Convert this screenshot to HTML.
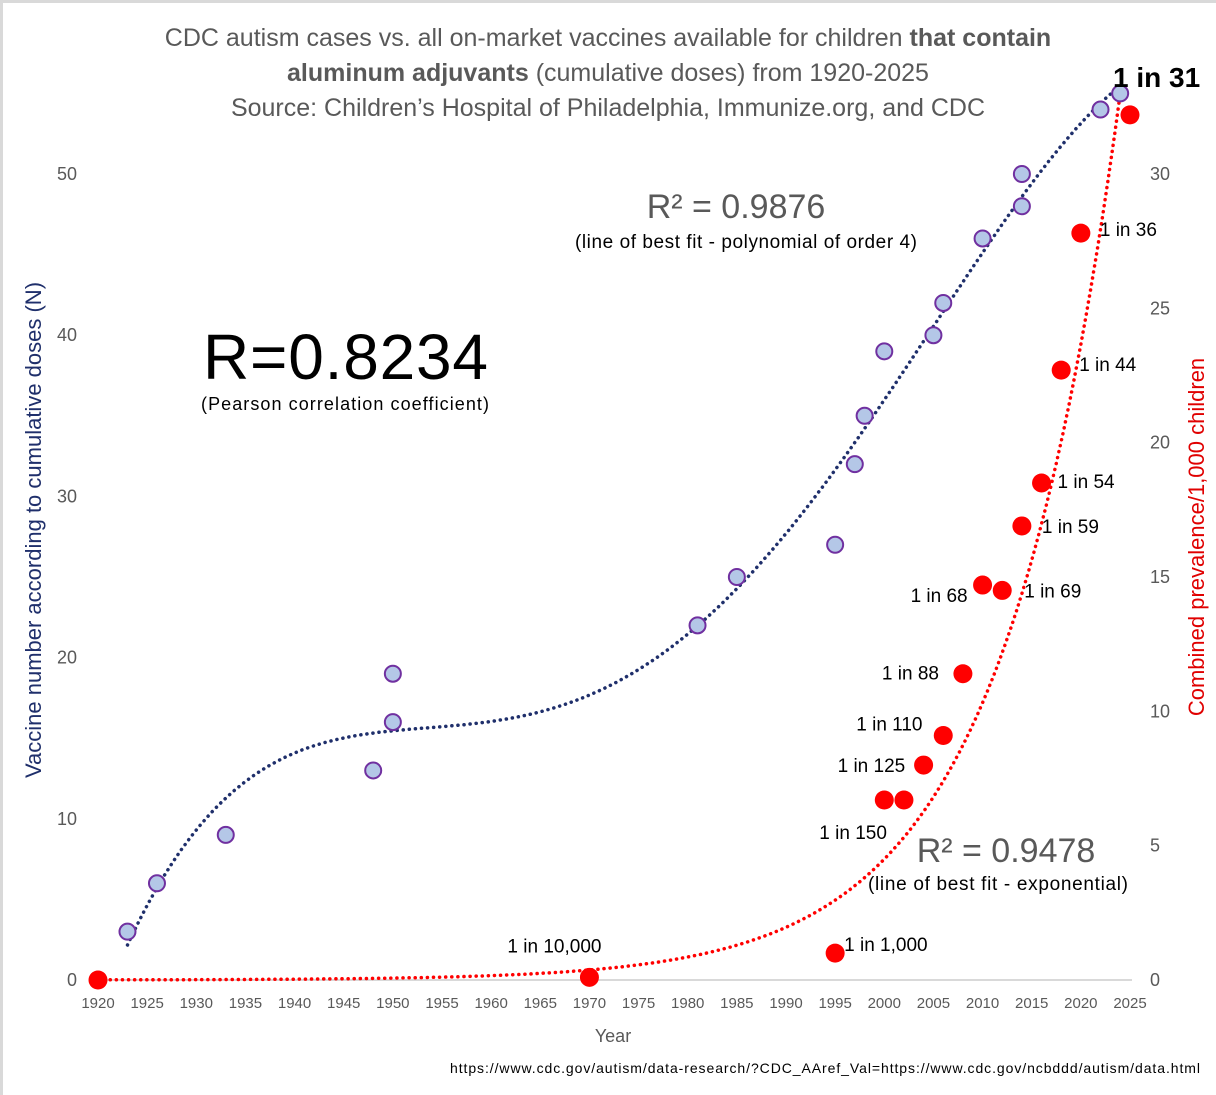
<!DOCTYPE html>
<html><head><meta charset="utf-8"><style>
html,body{margin:0;padding:0;background:#fff}
svg{display:block;font-family:"Liberation Sans",sans-serif}
</style></head><body>
<svg id="chart" width="1216" height="1095" viewBox="0 0 1216 1095">
<rect x="0" y="0" width="1216" height="1095" fill="#fff"/>
<path d="M1.5 1095V1.5H1216" fill="none" stroke="#d9d9d9" stroke-width="3"/>
<g fill="#595959" font-size="25" text-anchor="middle">
<text x="608" y="46">CDC autism cases vs. all on-market vaccines available for children <tspan font-weight="bold">that contain</tspan></text>
<text x="608" y="81"><tspan font-weight="bold">aluminum adjuvants</tspan> (cumulative doses)  from 1920-2025</text>
<text x="608" y="116">Source: Children’s Hospital of Philadelphia, Immunize.org, and CDC</text>
</g>
<line x1="98" y1="980" x2="1132" y2="980" stroke="#d9d9d9" stroke-width="2"/>
<g id="xticks" fill="#595959" font-size="15" text-anchor="middle"></g>
<g id="lticks" fill="#595959" font-size="18" text-anchor="end"></g>
<g id="rticks" fill="#595959" font-size="18" text-anchor="start"></g>
<text x="613" y="1042" fill="#595959" font-size="18" text-anchor="middle">Year</text>
<text transform="translate(41,530) rotate(-90)" fill="#1f2f6b" font-size="22" text-anchor="middle">Vaccine number according to cumulative doses (N)</text>
<text transform="translate(1204,537) rotate(-90)" fill="#e00000" font-size="22" text-anchor="middle">Combined prevalence/1,000 children</text>
<g id="trend"></g>
<g id="blue"></g>
<g id="red"></g>
<g id="labels" fill="#000" font-size="19"></g>
<text x="203" y="379" font-size="64" fill="#000" textLength="285">R=0.8234</text>
<text x="201" y="410" font-size="18" fill="#000" textLength="288">(Pearson correlation coefficient)</text>
<text x="736" y="218" font-size="34" fill="#595959" text-anchor="middle">R² = 0.9876</text>
<text x="746" y="248" font-size="19" fill="#000" text-anchor="middle" textLength="342">(line of best fit - polynomial of order 4)</text>
<text x="1006" y="862" font-size="34" fill="#595959" text-anchor="middle">R² = 0.9478</text>
<text x="998" y="890" font-size="19" fill="#000" text-anchor="middle" textLength="260">(line of best fit - exponential)</text>
<text x="1200" y="1073" font-size="14" fill="#000" text-anchor="end" textLength="750">https://www.cdc.gov/autism/data-research/?CDC_AAref_Val=https://www.cdc.gov/ncbddd/autism/data.html</text>
</svg>
<script>
const xTickLabels=[1920,1925,1930,1935,1940,1945,1950,1955,1960,1965,1970,1975,1980,1985,1990,1995,2000,2005,2010,2015,2020,2025];
const leftTicks=[0,10,20,30,40,50];
const rightTicks=[0,5,10,15,20,25,30];
const vaccineYears=[1923,1926,1933,1948,1950,1950,1981,1985,1995,1997,1998,2000,2005,2006,2010,2014,2014,2022,2024];
const vaccineCounts=[3,6,9,13,19,16,22,25,27,32,35,39,40,42,46,48,50,54,55];
const autismYears=[1920,1970,1995,2000,2002,2004,2006,2008,2010,2012,2014,2016,2018,2020,2025];
const autismPrev=[0,0.1,1,6.7,6.7,8,9.1,11.4,14.7,14.5,16.9,18.5,22.7,27.8,32.2];
const autismLabels=["","1 in 10,000","1 in 1,000","1 in 150","","1 in 125","1 in 110","1 in 88","1 in 68","1 in 69","1 in 59","1 in 54","1 in 44","1 in 36","1 in 31"];
const expA=4.5, expB=0.083; // displayed exponential trendline (Excel fit)
const X=y=>98+(y-1920)*(1130-98)/105;
const YL=v=>980-v*(980-174)/50;
const YR=v=>980-v*(980-174)/30;
const NS="http://www.w3.org/2000/svg";
function mk(tag,attrs,parent){const e=document.createElementNS(NS,tag);for(const k in attrs)e.setAttribute(k,attrs[k]);parent.appendChild(e);return e;}
const xt=document.getElementById('xticks');
xTickLabels.forEach(t=>{const e=mk('text',{x:X(t),y:1008},xt);e.textContent=t;

});
const lt=document.getElementById('lticks');
leftTicks.forEach(t=>{const e=mk('text',{x:77,y:YL(t)+6},lt);e.textContent=t;

});
const rt=document.getElementById('rticks');
rightTicks.forEach(t=>{const e=mk('text',{x:1150,y:YR(t)+6},rt);e.textContent=t;

});
function polyfit(xs,ys,deg){const n=deg+1;const m=[];const c=xs.reduce((s,x)=>s+x,0)/xs.length;
for(let i=0;i<n;i++){m.push(new Array(n+1).fill(0));}
xs.forEach((x0,k)=>{const x=(x0-c)/50;for(let i=0;i<n;i++){for(let j=0;j<n;j++)m[i][j]+=Math.pow(x,i+j);m[i][n]+=ys[k]*Math.pow(x,i);}});
for(let i=0;i<n;i++){let p=i;for(let r=i+1;r<n;r++)if(Math.abs(m[r][i])>Math.abs(m[p][i]))p=r;[m[i],m[p]]=[m[p],m[i]];
for(let r=0;r<n;r++){if(r===i)continue;const f=m[r][i]/m[i][i];for(let j=i;j<=n;j++)m[r][j]-=f*m[i][j];}}
const co=m.map((row,i)=>row[n]/row[i]);return x0=>{const x=(x0-c)/50;return co.reduce((s,a,i)=>s+a*Math.pow(x,i),0);};}
const pf=polyfit(vaccineYears,vaccineCounts,4);
const tr=document.getElementById('trend');
let d='';const y0=Math.min(...vaccineYears),y1=Math.max(...vaccineYears);
for(let y=y0;y<=y1;y+=0.25)d+=(d?'L':'M')+X(y).toFixed(1)+' '+YL(pf(y)).toFixed(1);
const pl=mk('path',{d:d,fill:'none',stroke:'#1f2f6b','stroke-width':3.5,'stroke-dasharray':'0.1 6','stroke-linecap':'round'},tr);


let d2='';
for(let y=1920;y<=2024;y+=0.25){const v=expA*Math.exp(expB*(y-2000));d2+=(d2?'L':'M')+X(y).toFixed(1)+' '+Math.max(YR(v),90).toFixed(1);}
const el=mk('path',{d:d2,fill:'none',stroke:'#ff0000','stroke-width':3.5,'stroke-dasharray':'0.1 6','stroke-linecap':'round'},tr);


const bg=document.getElementById('blue');
vaccineYears.forEach((y,i)=>{const c=mk('circle',{cx:X(y),cy:YL(vaccineCounts[i]),r:8,fill:'#b4c7e7',stroke:'#7030a0','stroke-width':2},bg);

});
const rg=document.getElementById('red');
autismYears.forEach((y,i)=>{const c=mk('circle',{cx:X(y),cy:YR(autismPrev[i]),r:9.5,fill:'#ff0000'},rg);

});
const lg=document.getElementById('labels');
const offs=[[0,0],[-82,-25],[9,-2],[-65,39],[0,0],[-86,7],[-87,-5],[-81,6],[-72,17],[22,7],[20,7],[16,5],[18,1],[19,3],[-17,-28]];
autismYears.forEach((y,i)=>{if(!autismLabels[i])return;const t=mk('text',{x:X(y)+offs[i][0],y:YR(autismPrev[i])+offs[i][1]},lg);
t.textContent=autismLabels[i];
if(i===autismYears.length-1){t.setAttribute('font-size','28');t.setAttribute('font-weight','bold');}

});
</script>
</body></html>
